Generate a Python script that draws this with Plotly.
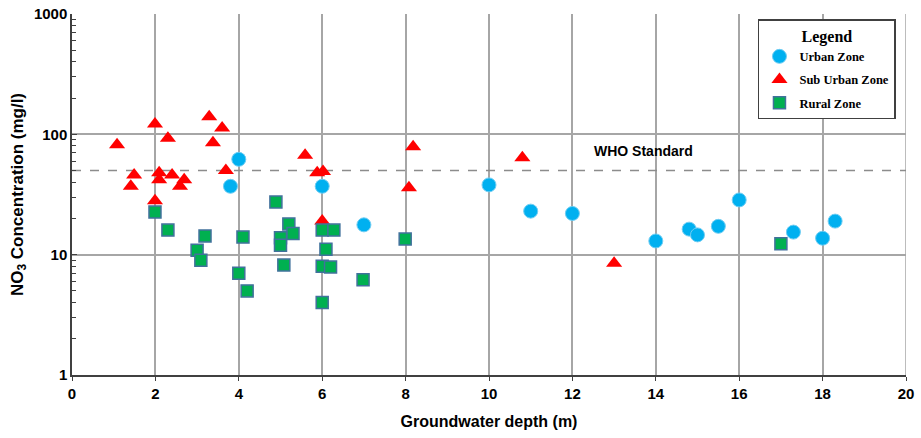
import plotly.graph_objects as go

# Urban zone
urban_x = [3.8, 4.0, 6.0, 7.0, 10.0, 11.0, 12.0, 14.0, 14.8, 15.0, 15.5, 16.0, 17.3, 18.0, 18.3]
urban_y = [37, 62, 37, 17.7, 38, 23, 22, 13, 16.3, 14.6, 17.2, 28.5, 15.4, 13.7, 19]

# Sub urban zone
sub_x = [1.08, 1.41, 1.49, 1.99, 1.99, 2.09, 2.09, 2.3, 2.4, 2.59, 2.69, 3.29, 3.38, 3.6, 3.69,
         5.59, 5.88, 6.02, 6.0, 8.08, 8.18, 10.8, 13.0]
sub_y = [82, 37, 46, 122, 28, 48, 42, 93, 46, 37, 42, 140, 85, 113, 50,
         67, 48, 49, 19, 36, 79, 64, 8.5]

# Rural zone
rural_x = [1.99, 2.3, 3.0, 3.09, 3.19, 4.0, 4.1, 4.2, 4.89, 5.0, 5.0, 5.08, 5.2, 5.3,
           6.0, 6.0, 6.0, 6.09, 6.2, 6.28, 6.98, 7.99, 17.0]
rural_y = [22.6, 16, 10.9, 9.0, 14.3, 7.0, 14, 5.0, 27.4, 13.8, 12, 8.2, 18, 15,
           16, 8.0, 4.0, 11.1, 7.9, 16, 6.2, 13.5, 12.3]

who_standard = 50
x_ticks = list(range(0, 21, 2))
y_ticks = [1, 10, 100, 1000]

fig = go.Figure()

fig.add_trace(go.Scatter(
    x=[0, 20], y=[who_standard, who_standard], mode="lines",
    line=dict(color="#8c8c8c", width=1.5, dash="dash"),
    showlegend=False, hoverinfo="skip"))

fig.add_trace(go.Scatter(
    x=urban_x, y=urban_y, mode="markers", name="Urban Zone", legendgroup="u",
    marker=dict(symbol="circle", size=14, color="#00b0f0",
                line=dict(color="#6fcdf3", width=1))))
fig.add_trace(go.Scatter(
    x=sub_x, y=sub_y, mode="markers", name="Sub Urban Zone", legendgroup="s",
    marker=dict(symbol="triangle-up", size=14, color="#ff0000",
                line=dict(width=0))))
fig.add_trace(go.Scatter(
    x=rural_x, y=rural_y, mode="markers", name="Rural Zone", legendgroup="r",
    marker=dict(symbol="square", size=12, color="#00b050",
                line=dict(color="#41719c", width=1.5))))

fig.add_annotation(x=13.7, y=1.865, yref="y", xref="x", text="<b>WHO Standard</b>",
                   showarrow=False, font=dict(family="Liberation Sans", size=14, color="#000000"))

grid_col = "#a6a6a6"
fig.update_layout(
    width=921, height=438,
    margin=dict(l=72, r=15, t=14, b=63),
    paper_bgcolor="white", plot_bgcolor="white",
    font=dict(family="Liberation Sans", color="#000000"),
    xaxis=dict(
        range=[0, 20], tickvals=x_ticks, showgrid=True, gridcolor=grid_col, gridwidth=1.5,
        zeroline=False, showline=True, linecolor="#404040", linewidth=1.5,
        ticks="outside", ticklen=4, tickcolor="#404040", automargin=False,
        tickfont=dict(family="Liberation Sans", size=15, color="#000000", weight="bold"),
        title=dict(text="<b>Groundwater depth (m)</b>", font=dict(size=16), standoff=15),
        mirror=False),
    yaxis=dict(
        type="log", range=[0, 3], tickvals=y_ticks, ticktext=["1", "10", "100", "1000"],
        showgrid=True, gridcolor=grid_col, gridwidth=1.5, zeroline=False,
        showline=True, linecolor="#404040", linewidth=1.5, automargin=False,
        ticks="inside", ticklen=5, tickcolor="#404040",
        minor=dict(ticks="inside", ticklen=4, tickcolor="#404040", showgrid=False,
                   tickvals=[m * 10 ** d for d in range(3) for m in range(2, 10)]),
        tickfont=dict(family="Liberation Sans", size=15, color="#000000", weight="bold"),
        title=dict(text="<b>NO<sub>3</sub> Concentration (mg/l)</b>", font=dict(size=17), standoff=6)),
    legend=dict(
        x=0.8225, y=0.985, xanchor="left", yanchor="top",
        bgcolor="white", bordercolor="#404040", borderwidth=1.5,
        font=dict(family="Liberation Serif", size=12.5, color="#000000", weight="bold"),
        title=dict(text="Legend", side="top center",
                   font=dict(family="Liberation Serif", size=16, weight="bold")),
        tracegroupgap=4, itemsizing="trace"),
)

# right border at x = 20
fig.add_shape(type="line", xref="x", yref="paper", x0=20, x1=20, y0=0, y1=1,
              line=dict(color=grid_col, width=1.5), layer="below")

fig.write_html("out.html")
